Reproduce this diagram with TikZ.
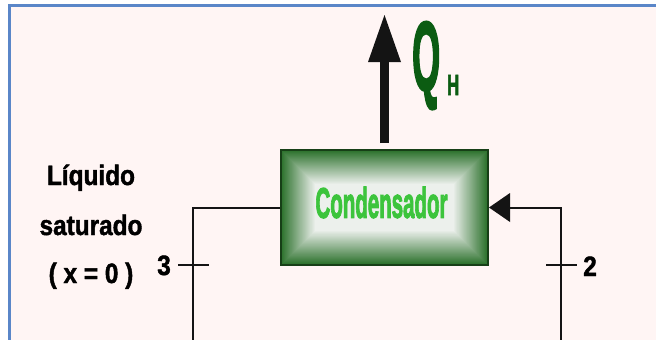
\documentclass[tikz,border=0pt]{standalone}
\usepackage{fontspec}
\usepackage{graphicx}
\setsansfont{Liberation Sans}
\newfontfamily\rotulo{Liberation Sans Bold}[FakeStretch=0.87, FakeBold=1.5]
\newfontfamily\grueso{Liberation Sans Bold}[FakeBold=3]
\usetikzlibrary{arrows.meta, positioning, calc}
\definecolor{bordeAzul}{HTML}{5A86C8}
\definecolor{fondoRosa}{HTML}{FFF5F4}
\definecolor{verdeBorde}{HTML}{173F17}
\definecolor{verdeCaja}{HTML}{2A702A}
\definecolor{centroCaja}{HTML}{EEF1EE}
\definecolor{verdeTexto}{HTML}{3CC43C}
\definecolor{verdeQ}{HTML}{0B5C12}
\definecolor{lineaNegra}{HTML}{141414}

\begin{document}
\begin{tikzpicture}[x=1pt, y=-1pt, font=\rotulo\fontsize{28}{30}\selectfont, >=Latex,
        caja/.style={draw=verdeBorde, line width=2pt, minimum width=207pt, minimum height=115pt, inner sep=0pt,
            path picture={\foreach \i in {0,...,34}{%
                \pgfmathtruncatemacro\mezcla{100-2.9*\i}%
                \fill[verdeCaja!\mezcla!centroCaja] ([shift={(\i pt,\i pt)}]path picture bounding box.south west)
                    rectangle ([shift={(-\i pt,-\i pt)}]path picture bounding box.north east);}}},
        linea/.style={lineaNegra, line width=2pt},
        texto/.style={anchor=base, inner sep=0pt, text=black}]
        \clip (0,0) rectangle (656,340);
        \fill[white] (0,0) rectangle (656,340);
        \fill[fondoRosa] (9.5,5.5) rectangle (656,340);
        \draw[bordeAzul, line width=2.5pt] (9.5,345) -- (9.5,5.5) -- (660,5.5);
        \node[caja, label={[text=verdeTexto, xshift=-3pt, yshift=5pt]center:\resizebox{132pt}{31pt}{\grueso Condensador}}] (cond) at (384.5,207.5) {};
        \coordinate (tipQ) at (384.5,15);
        \draw[lineaNegra, line width=9pt, -{Triangle[width=33pt, length=47pt, line width=0pt]}] ([yshift=6pt]cond.north) -- (tipQ);
        \node[anchor=base west, inner sep=0pt, text=verdeQ, font=\grueso] (qh) at (412,90) {\resizebox{28pt}{68pt}{Q}\hspace{7pt}\raisebox{-5pt}{\resizebox{12pt}{20pt}{H}}};
        \coordinate (esq3) at (193,207.5);
        \coordinate (baja3) at (193,345);
        \coordinate (esq2) at (561,207.5);
        \coordinate (baja2) at (561,345);
        \draw[linea] (cond.west) -- (esq3) -- (baja3);
        \draw[linea, -{Triangle[width=29pt, length=21pt, line width=0pt]}] (baja2) -- (esq2) -- (cond.east);
        \coordinate (p3) at (193,265);
        \coordinate (p2) at (561,265);
        \foreach \p in {p3,p2} \draw[linea] ([xshift=-15pt]\p) -- ([xshift=16pt]\p);
        \node[texto] (n3) at (164,275) {3};
        \node[texto] (n2) at (590,276) {2};
        \node[texto] (liq1) at (91,185) {Líquido};
        \node[texto] (liq2) at (91,235) {saturado};
        \node[texto] (liq3) at (91,283) {( x = 0 )};
    \end{tikzpicture}
\end{document}
